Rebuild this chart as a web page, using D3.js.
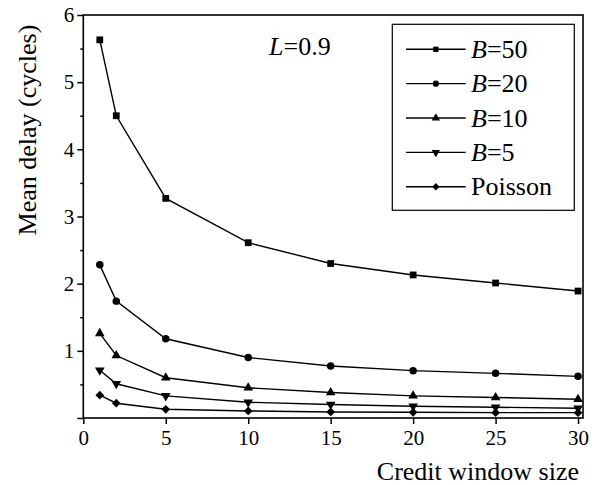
<!DOCTYPE html>
<html><head><meta charset="utf-8">
<script src="https://cdn.jsdelivr.net/npm/d3@7"></script>
<style>body{margin:0;background:#fff}svg{display:block}</style>
</head><body><svg id="c" width="598" height="485"></svg>
<script>
const windowSizes = [1, 2, 5, 10, 15, 20, 25, 30];
const seriesNames = ["B=50", "B=20", "B=10", "B=5", "Poisson"];
const b50 = [5.63, 4.50, 3.27, 2.61, 2.30, 2.13, 2.01, 1.89];
const b20 = [2.28, 1.74, 1.18, 0.90, 0.775, 0.705, 0.665, 0.62];
const b10 = [1.26, 0.93, 0.60, 0.45, 0.38, 0.33, 0.305, 0.28];
const b5 = [0.71, 0.51, 0.33, 0.235, 0.20, 0.175, 0.16, 0.145];
const poisson = [0.34, 0.22, 0.13, 0.105, 0.09, 0.085, 0.08, 0.08];
const xTicks = [0, 5, 10, 15, 20, 25, 30];
const yTicks = [1, 2, 3, 4, 5, 6];
const seriesValues = [b50, b20, b10, b5, poisson];
const markers = ["square", "circle", "tri-up", "tri-down", "diamond"];

const FONT = '"Liberation Serif"';
const svg = d3.select("#c");
const x = d3.scaleLinear().domain([0, 30.3]).range([83.3, 583]);
const y = d3.scaleLinear().domain([0, 6]).range([418, 15]);

function markerPath(m, size) {
  if (m === "square" || m === "diamond") return d3.symbol(d3.symbolSquare, size)();
  if (m === "circle") return d3.symbol(d3.symbolCircle, size)();
  return d3.symbol(d3.symbolTriangle, size)();
}
function markerRot(m) {
  return m === "tri-down" ? " rotate(180)" : (m === "diamond" ? " rotate(45)" : "");
}
const markerSizes = [46, 44, 40, 40, 38];

function styleText(sel, size) {
  sel.style("font-family", FONT).style("font-size", size + "px").attr("fill", "#000");
}

// lines and markers
const line = d3.line().x((d, i) => x(windowSizes[i])).y(d => y(d));
seriesValues.forEach((vals, si) => {
  svg.append("path").attr("d", line(vals)).attr("fill", "none").attr("stroke", "#000").attr("stroke-width", 1.4);
  svg.selectAll(null).data(vals).enter().append("path")
    .attr("d", markerPath(markers[si], markerSizes[si]))
    .attr("transform", (d, i) => `translate(${x(windowSizes[i])},${y(d)})` + markerRot(markers[si]))
    .attr("fill", "#000");
});

// axes
const xa = svg.append("g").attr("transform", "translate(0,418)")
  .call(d3.axisBottom(x).tickValues(xTicks).tickSize(6).tickPadding(6));
xa.attr("font-family", null);
xa.select(".domain").remove();
styleText(xa.selectAll("text"), 21);
xa.selectAll("line").attr("stroke-width", 1.5);

const ya = svg.append("g").attr("transform", "translate(83.3,0)")
  .call(d3.axisLeft(y).tickValues([0].concat(yTicks)).tickSize(6).tickPadding(3).tickFormat(d => d === 0 ? "" : d));
ya.attr("font-family", null);
ya.select(".domain").remove();
styleText(ya.selectAll("text"), 21);
ya.selectAll("line").attr("stroke-width", 1.5);
const ym = svg.append("g").attr("transform", "translate(83.3,0)")
  .call(d3.axisLeft(y).tickValues(d3.range(0.5, 6, 1)).tickSize(3).tickFormat(""));
ym.select(".domain").remove();
ym.selectAll("line").attr("stroke-width", 1.5);

// frame
svg.append("rect").attr("x", 83.3).attr("y", 15).attr("width", 583 - 83.3).attr("height", 418 - 15)
  .attr("fill", "none").attr("stroke", "#000").attr("stroke-width", 1.6);

// axis titles
styleText(svg.append("text").attr("x", 579).attr("y", 480).attr("text-anchor", "end").text("Credit window size"), 26);
styleText(svg.append("text").attr("transform", "translate(36,130) rotate(-90)").attr("text-anchor", "middle").text("Mean delay (cycles)"), 26);

// L=0.9
const lt = svg.append("text").attr("x", 269).attr("y", 55);
styleText(lt, 26);
lt.append("tspan").style("font-style", "italic").text("L");
lt.append("tspan").text("=0.9");

// legend
const lg = svg.append("g");
lg.append("rect").attr("x", 392.3).attr("y", 24.3).attr("width", 182).attr("height", 186)
  .attr("fill", "#fff").attr("stroke", "#000").attr("stroke-width", 1.2);
const legSizes = [28, 30, 30, 30, 28];
seriesNames.forEach((name, i) => {
  const cy = 49.3 + i * 34.35;
  lg.append("line").attr("x1", 406).attr("x2", 465.7).attr("y1", cy).attr("y2", cy).attr("stroke", "#000").attr("stroke-width", 1.4);
  lg.append("path").attr("d", markerPath(markers[i], legSizes[i]))
    .attr("transform", `translate(${(406 + 465.7) / 2},${cy})` + markerRot(markers[i])).attr("fill", "#000");
  const t = lg.append("text").attr("x", 471).attr("y", cy + 8.5);
  styleText(t, 26);
  if (name.startsWith("B=")) {
    t.append("tspan").style("font-style", "italic").text("B");
    t.append("tspan").text(name.slice(1));
  } else t.text(name);
});
</script></body></html>
